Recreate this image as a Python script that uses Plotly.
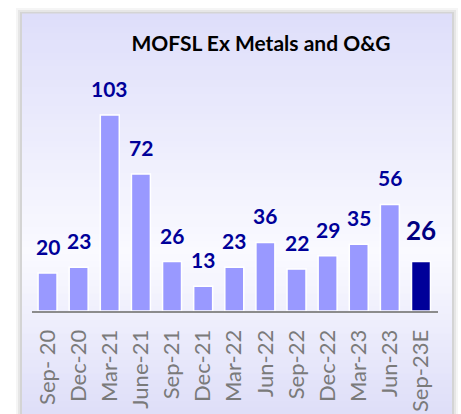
import plotly.graph_objects as go

categories = ["Sep- 20", "Dec-20", "Mar-21", "June-21", "Sep-21", "Dec-21", "Mar-22",
              "Jun-22", "Sep-22", "Dec-22", "Mar-23", "Jun-23", "Sep-23E"]
values = [20, 23, 103, 72, 26, 13, 23, 36, 22, 29, 35, 56, 26]
title_text = "MOFSL Ex Metals and O&G"

W, H = 461, 414
bar_colors = ["#9999FF"] * (len(values) - 1) + ["#000099"]

fig = go.Figure()
fig.add_trace(go.Bar(
    x=categories, y=values,
    marker=dict(color=bar_colors, line=dict(color="#FFFFFF", width=1.5)),
    hoverinfo="x+y",
))

# data labels
for i, (c, v) in enumerate(zip(categories, values)):
    last = i == len(values) - 1
    fig.add_annotation(
        x=c, y=v, xref="x", yref="y", text=f"<b>{v}</b>", showarrow=False,
        yanchor="bottom", yshift=14 if last else 12,
        font=dict(family="Lato", size=26 if last else 21,
                  color="#000080" if last else "#000099"),
    )

# background panel: shadow + vertical gradient
shapes = []
px0, px1, py0 = 22, 452, 14
for k, op in enumerate([0.04, 0.06, 0.08]):
    d = 6 - 2 * k
    shapes.append(dict(type="rect", xref="paper", yref="paper", layer="below",
                       x0=(px0 - d - 32) / 406, x1=(px1 + d - 32) / 406,
                       y0=-1, y1=(311 - (py0 - d)) / 241,
                       fillcolor=f"rgba(0,0,0,{op})", line=dict(width=0)))
top_c = (222, 222, 250)
mid_c = (250, 250, 255)
bot_c = (222, 222, 248)
n = 60
for j in range(n):
    ya = py0 + (H - py0) * j / n
    yb = py0 + (H - py0) * (j + 1) / n
    t = (ya + yb) / 2
    f = (t - py0) / (H - py0)
    if f < 0.6:
        g = f / 0.6
        col = tuple(round(top_c[q] + (mid_c[q] - top_c[q]) * g) for q in range(3))
    else:
        g = (f - 0.6) / 0.4
        col = tuple(round(mid_c[q] + (bot_c[q] - mid_c[q]) * g) for q in range(3))
    shapes.append(dict(type="rect", xref="paper", yref="paper", layer="below",
                       x0=(px0 - 32) / 406, x1=(px1 - 32) / 406,
                       y0=(311 - yb - 0.5) / 241, y1=(311 - ya + 0.5) / 241,
                       fillcolor="rgb(%d,%d,%d)" % col, line=dict(width=0)))

fig.update_layout(
    width=W, height=H,
    margin=dict(l=32, r=23, t=70, b=103),
    paper_bgcolor="#FFFFFF", plot_bgcolor="rgba(0,0,0,0)",
    showlegend=False, bargap=0.39,
    shapes=shapes,
    title=dict(text=f"<b>{title_text}</b>", x=261 / W, y=1 - 44 / H,
               xanchor="center", yanchor="middle", xref="container", yref="container",
               font=dict(family="Lato", size=21, color="#000000")),
    xaxis=dict(showgrid=False, tickangle=-90, showline=True, linecolor="#8C8C8C",
               linewidth=2, ticks="", ticklabelstandoff=8, automargin=False,
               tickfont=dict(family="Lato", size=22, color="#7A7A7A")),
    yaxis=dict(visible=False, range=[0, 126.6], automargin=False),
)

fig.write_html("out.html", config={"displayModeBar": False},
               post_script="document.body.style.margin='0';document.body.style.overflow='hidden';")
